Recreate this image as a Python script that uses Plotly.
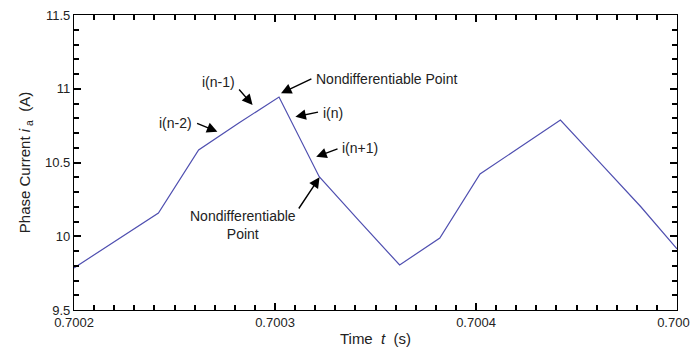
import plotly.graph_objects as go

# Sampled phase current (A) against time (s)
time_s = [0.700200, 0.700222, 0.700242, 0.700262, 0.700282, 0.700302,
          0.700322, 0.700342, 0.700362, 0.700382, 0.700402, 0.700422,
          0.700442, 0.700462, 0.700482, 0.700500]
current_a = [9.785, 9.980, 10.158, 10.585, 10.768, 10.944,
             10.404, 10.103, 9.805, 9.988, 10.422, 10.605,
             10.788, 10.494, 10.200, 9.914]

x_ticks = [0.7002, 0.7003, 0.7004, 0.7005]
x_tick_text = ["0.7002", "0.7003", "0.7004", "0.7005"]
y_ticks = [9.5, 10, 10.5, 11, 11.5]
y_tick_text = ["9.5", "10", "10.5", "11", "11.5"]

FONT = "Liberation Sans, Arial, sans-serif"
TEXT = "#222222"
X_RANGE = [0.7002, 0.7005000001]
Y_RANGE = [9.5, 11.5]

fig = go.Figure()
fig.add_trace(go.Scatter(
    x=time_s, y=current_a, mode="lines",
    line=dict(color="#4f4fb0", width=1.2),
    showlegend=False, hoverinfo="skip",
))
# hidden copy that anchors the top/right tick axes
fig.add_trace(go.Scatter(
    x=time_s, y=current_a, mode="lines", xaxis="x2", yaxis="y2",
    line=dict(width=0), opacity=0, showlegend=False, hoverinfo="skip",
))

tick_common = dict(
    ticks="inside", ticklen=7, tickwidth=1.5, tickcolor="black",
    showgrid=False, zeroline=False, automargin=False,
    tickfont=dict(family=FONT, size=13, color=TEXT),
)
x_minor = dict(dtick=0.00001, tick0=0.7002, ticks="inside", ticklen=5, tickwidth=1.5,
               tickcolor="black", showgrid=False)
y_minor = dict(dtick=0.1, tick0=9.5, ticks="inside", ticklen=5, tickwidth=1.5,
               tickcolor="black", showgrid=False)

fig.update_layout(
    xaxis=dict(
        range=X_RANGE, tickmode="array", tickvals=x_ticks, ticktext=x_tick_text,
        showline=True, linecolor="black", linewidth=1.2, mirror=True,
        ticklabeloverflow="allow", minor=x_minor,
        title=dict(text="Time  <i>t</i>  (s)", font=dict(family=FONT, size=15, color=TEXT), standoff=4),
        **tick_common,
    ),
    yaxis=dict(
        range=Y_RANGE, tickmode="array", tickvals=y_ticks, ticktext=y_tick_text,
        showline=True, linecolor="black", linewidth=1.2, mirror=True,
        minor=y_minor,
        title=dict(text="Phase Current <i>i</i><sub> a</sub>  (A)", font=dict(family=FONT, size=15, color=TEXT), standoff=10),
        **tick_common,
    ),
    xaxis2=dict(
        range=X_RANGE, overlaying="x", side="top", anchor="y2",
        tickmode="array", tickvals=x_ticks, showticklabels=False,
        showline=False, minor=x_minor, **tick_common,
    ),
    yaxis2=dict(
        range=Y_RANGE, overlaying="y", side="right", anchor="x2",
        tickmode="array", tickvals=y_ticks, showticklabels=False,
        showline=False, minor=y_minor, **tick_common,
    ),
)

# Labels pointing at successive samples and at the kinks of the waveform
labels = [
    dict(text="i(n-1)", x=0.700272, y=11.046, xanchor="center"),
    dict(text="Nondifferentiable Point", x=0.7003195, y=11.066, xanchor="left"),
    dict(text="i(n)", x=0.700323, y=10.833, xanchor="left"),
    dict(text="i(n+1)", x=0.7003325, y=10.596, xanchor="left"),
    dict(text="i(n-2)", x=0.7002597, y=10.766, xanchor="right"),
    dict(text="Nondifferentiable<br>Point", x=0.70028385, y=10.076, xanchor="center"),
]
for lab in labels:
    fig.add_annotation(
        text=lab["text"], x=lab["x"], y=lab["y"], xref="x", yref="y",
        xanchor=lab["xanchor"], yanchor="middle", showarrow=False,
        font=dict(family=FONT, size=14, color=TEXT),
    )

arrows = [
    # (tail_x, tail_y, head_x, head_y)
    (0.7002815, 11.005, 0.70028885, 10.890),
    (0.70031885, 11.071, 0.700303, 10.969),
    (0.70032215, 10.844, 0.70031015, 10.810),
    (0.70033185, 10.596, 0.7003205, 10.539),
    (0.7002605, 10.770, 0.70027135, 10.709),
    (0.70031135, 10.178, 0.70032215, 10.400),
]
for tx, ty, hx, hy in arrows:
    fig.add_annotation(
        text="", x=hx, y=hy, ax=tx, ay=ty,
        xref="x", yref="y", axref="x", ayref="y",
        showarrow=True, arrowhead=2, arrowsize=1.5, arrowwidth=1.4,
        arrowcolor="black", standoff=0, startstandoff=0,
    )

fig.update_layout(
    width=690, height=353,
    margin=dict(l=74, r=13, t=15, b=43),
    paper_bgcolor="white", plot_bgcolor="white",
    font=dict(family=FONT, color=TEXT),
)

fig.write_html("out.html")
